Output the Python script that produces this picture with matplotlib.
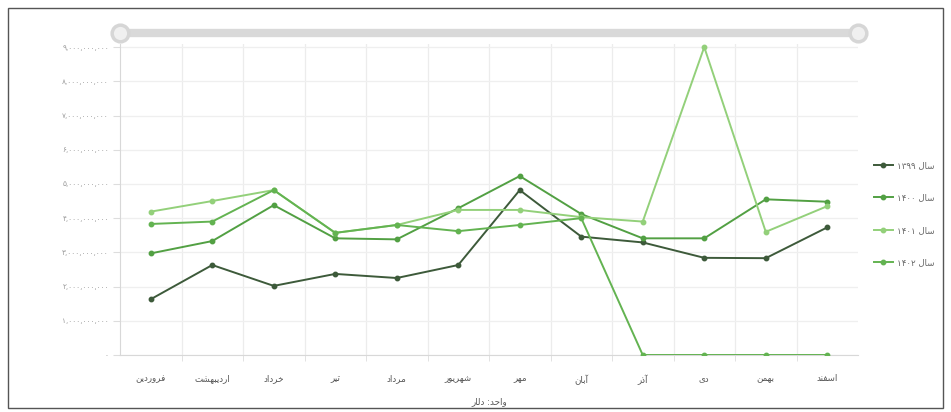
import re
import numpy as np
import matplotlib
matplotlib.use("Agg")
import matplotlib.pyplot as plt
from matplotlib.lines import Line2D
from matplotlib.patches import Rectangle

# months (Persian calendar)
months = ["فروردین", "اردیبهشت", "خرداد", "تیر", "مرداد", "شهریور",
          "مهر", "آبان", "آذر", "دی", "بهمن", "اسفند"]

# monthly values, billion dollars
y1399 = [1.63, 2.63, 2.02, 2.37, 2.25, 2.63, 4.82, 3.46, 3.29, 2.84, 2.83, 3.73]
y1400 = [2.97, 3.33, 4.38, 3.41, 3.38, 4.29, 5.23, 4.12, 3.41, 3.41, 4.55, 4.48]
y1401 = [4.19, 4.50, 4.82, 3.57, 3.80, 4.24, 4.24, 4.03, 3.90, 9.00, 3.60, 4.35]
y1402 = [3.83, 3.90, 4.82, 3.57, 3.80, 3.62, 3.80, 4.00, 0, 0, 0, 0]

series_names = ["سال ۱۳۹۹", "سال ۱۴۰۰", "سال ۱۴۰۱", "سال ۱۴۰۲"]
yticks = [0, 1, 2, 3, 4, 5, 6, 7, 8, 9]
xlabel = "واحد: دلار"

colors = ["#3d5a3a", "#52a043", "#93d07a", "#63b351"]

# --- minimal arabic/persian shaping (no bidi lib available) ---
FORMS = {
    "ا": ("\uFE8D", "\uFE8E", None, None),
    "آ": ("\uFE81", "\uFE82", None, None),
    "ب": ("\uFE8F", "\uFE90", "\uFE91", "\uFE92"),
    "ت": ("\uFE95", "\uFE96", "\uFE97", "\uFE98"),
    "ح": ("\uFEA1", "\uFEA2", "\uFEA3", "\uFEA4"),
    "خ": ("\uFEA5", "\uFEA6", "\uFEA7", "\uFEA8"),
    "د": ("\uFEA9", "\uFEAA", None, None),
    "ذ": ("\uFEAB", "\uFEAC", None, None),
    "ر": ("\uFEAD", "\uFEAE", None, None),
    "س": ("\uFEB1", "\uFEB2", "\uFEB3", "\uFEB4"),
    "ش": ("\uFEB5", "\uFEB6", "\uFEB7", "\uFEB8"),
    "ف": ("\uFED1", "\uFED2", "\uFED3", "\uFED4"),
    "ل": ("\uFEDD", "\uFEDE", "\uFEDF", "\uFEE0"),
    "م": ("\uFEE1", "\uFEE2", "\uFEE3", "\uFEE4"),
    "ن": ("\uFEE5", "\uFEE6", "\uFEE7", "\uFEE8"),
    "ه": ("\uFEE9", "\uFEEA", "\uFEEB", "\uFEEC"),
    "و": ("\uFEED", "\uFEEE", None, None),
    "ی": ("\uFBFC", "\uFBFD", "\uFBFE", "\uFBFF"),
}


def shape(text):
    out = []
    for i, ch in enumerate(text):
        if ch not in FORMS:
            out.append(ch)
            continue
        prev = text[i - 1] if i > 0 else ""
        nxt = text[i + 1] if i + 1 < len(text) else ""
        jp = prev in FORMS and FORMS[prev][2] is not None
        jn = nxt in FORMS and FORMS[ch][2] is not None
        iso, fin, ini, med = FORMS[ch]
        out.append(med if jp and jn else fin if jp else ini if jn else iso)
    return "".join(out)


def rtl(text):
    toks = re.findall(r"[\u06F0-\u06F9,]+|[^\u06F0-\u06F9,]+", shape(text))
    toks = [t if re.match(r"[\u06F0-\u06F9]", t) else t[::-1] for t in toks]
    return "".join(toks[::-1])


def fa(s):
    return s.translate(str.maketrans("0123456789", "۰۱۲۳۴۵۶۷۸۹"))


plt.rcParams["font.family"] = ["DejaVu Sans"]

fig = plt.figure(figsize=(9.51, 4.12), dpi=100)
ax = fig.add_axes([120 / 951, 1 - 355 / 412, 738 / 951, 311 / 412])

x = np.arange(len(months))
data = [y1399, y1400, y1401, y1402]
handles = []
for vals, c, name in zip(data, colors, series_names):
    h, = ax.plot(x, vals, color=c, lw=1.4, marker="o", ms=3.2,
                 mfc=c, mec=c, zorder=3)
    handles.append(h)

ax.set_xlim(-0.5, 11.5)
ax.set_ylim(0, 9.09)
ax.set_xticks(x)
ax.set_xticklabels([rtl(m) for m in months], fontsize=6.3, color="#555555")
ax.set_xticks(np.arange(0.5, 11, 1), minor=True)
ax.set_yticks(yticks)
ax.set_yticklabels([fa(f"{int(v * 1e9):,}") if v else "۰" for v in yticks],
                   fontsize=5.3, color="#9a9a9a")
ax.tick_params(axis="x", which="major", length=0, pad=14)
ax.tick_params(axis="x", which="minor", length=4, color="#dddddd")
ax.tick_params(axis="y", length=5, color="#dddddd", pad=3)
ax.grid(which="minor", axis="x", color="#ececec", lw=0.9)
ax.grid(which="major", axis="y", color="#efefef", lw=0.9)
for s in ["top", "right"]:
    ax.spines[s].set_visible(False)
for s in ["left", "bottom"]:
    ax.spines[s].set_color("#d8d8d8")
ax.set_xlabel(rtl(xlabel), fontsize=6.3, color="#555555", labelpad=9)

# slider on top
ys = 1 - 33 / 412
fig.add_artist(Line2D([120 / 951, 858 / 951], [ys, ys], transform=fig.transFigure,
                      lw=6, color="#d9d9d9", solid_capstyle="round"))
fig.add_artist(Line2D([120 / 951, 858 / 951], [ys, ys], transform=fig.transFigure,
                      lw=0, marker="o", ms=12, mfc="#f0f0f0", mec="#d6d6d6", mew=2.5))

leg = fig.legend(handles, [rtl(n) for n in series_names], loc="center left",
                 bbox_to_anchor=(866 / 951, 1 - 214 / 412), frameon=False,
                 fontsize=6.2, labelspacing=2.7, handlelength=2.2, handletextpad=0.5)
for t in leg.get_texts():
    t.set_color("#666666")

fig.add_artist(Rectangle((8 / 951, 4 / 412), 935 / 951, 400 / 412, transform=fig.transFigure,
                         fill=False, ec="#555555", lw=1))

fig.savefig("out.png", dpi=100)
